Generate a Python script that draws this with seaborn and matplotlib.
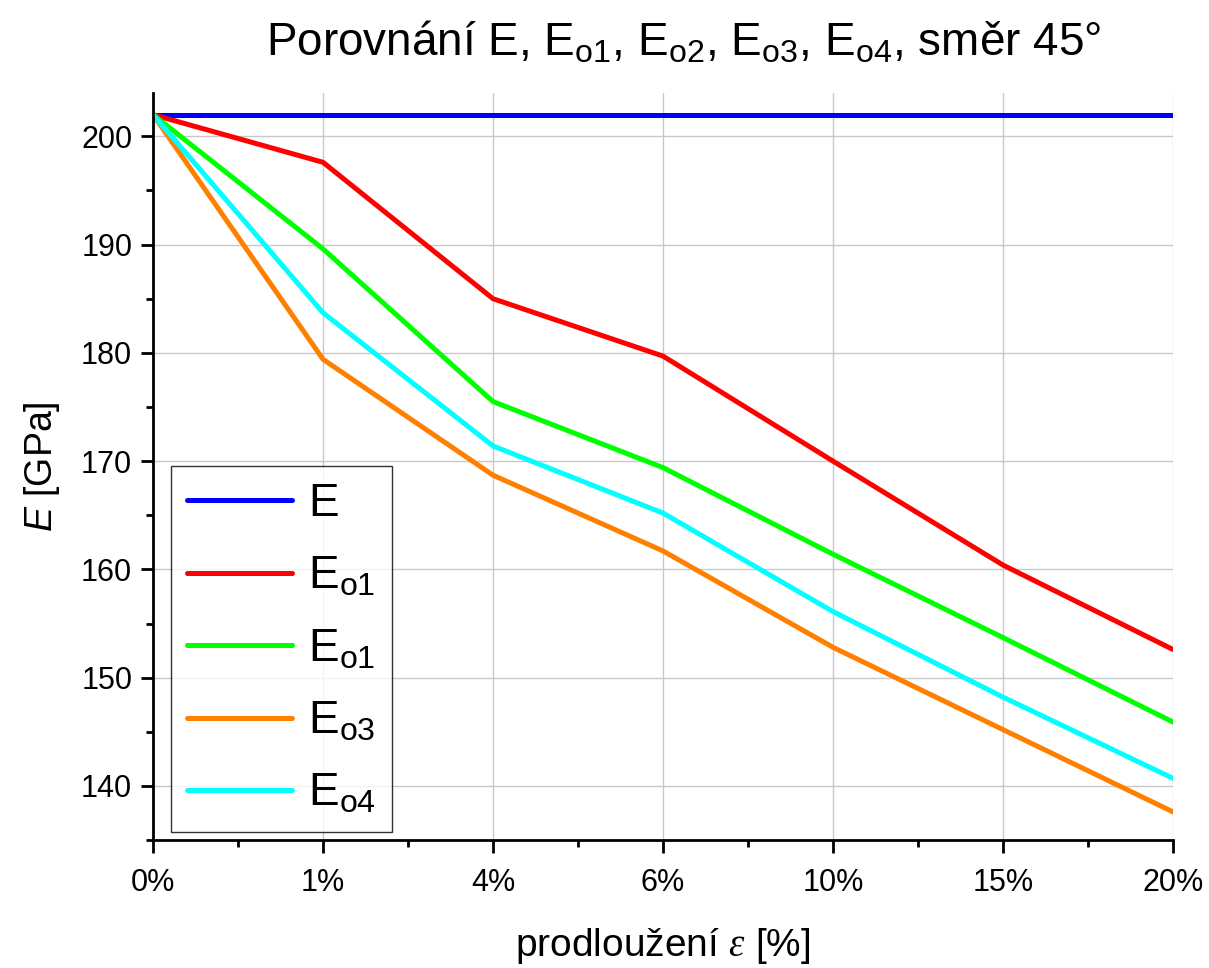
import numpy as np
import pandas as pd
import matplotlib
matplotlib.use("Agg")
import matplotlib.pyplot as plt
import seaborn as sns
from matplotlib.ticker import MultipleLocator

# ---- data ----
x_labels = ["0%", "1%", "4%", "6%", "10%", "15%", "20%"]
E_vals   = [202.0, 202.0, 202.0, 202.0, 202.0, 202.0, 202.0]
Eo1_vals = [202.0, 197.6, 185.0, 179.7, 170.0, 160.4, 152.6]
Eo2_vals = [202.0, 189.6, 175.5, 169.4, 161.4, 153.7, 145.9]
Eo3_vals = [202.0, 179.4, 168.7, 161.7, 152.8, 145.2, 137.6]
Eo4_vals = [202.0, 183.7, 171.4, 165.2, 156.1, 148.2, 140.7]
series_names = ["E", "Eo1", "Eo2", "Eo3", "Eo4"]
legend_labels = [r"$\mathregular{E}$", r"$\mathregular{E_{o1}}$", r"$\mathregular{E_{o1}}$",
                 r"$\mathregular{E_{o3}}$", r"$\mathregular{E_{o4}}$"]
colors = ["#0000FF", "#FF0000", "#00FF00", "#FF8000", "#00FFFF"]

rows = []
for name, vals in zip(series_names, [E_vals, Eo1_vals, Eo2_vals, Eo3_vals, Eo4_vals]):
    for i, v in enumerate(vals):
        rows.append({"x": i, "E": v, "series": name})
df = pd.DataFrame(rows)

sns.set_theme(style="white")
plt.rcParams["font.family"] = ["Liberation Sans", "DejaVu Sans"]
plt.rcParams["mathtext.fontset"] = "custom"
plt.rcParams["mathtext.rm"] = "Liberation Sans"
plt.rcParams["mathtext.sf"] = "Liberation Sans:italic"
plt.rcParams["mathtext.it"] = "Liberation Serif:italic"
for k in ["text.color", "axes.labelcolor", "xtick.color", "ytick.color"]:
    plt.rcParams[k] = "black"

fig = plt.figure(figsize=(12.09, 9.68), dpi=100)
ax = fig.add_axes([0.1266, 0.1322, 0.8436, 0.7717])

sns.lineplot(data=df, x="x", y="E", hue="series", hue_order=series_names,
             palette=dict(zip(series_names, colors)), linewidth=3.6, ax=ax,
             legend=False, sort=False)

ax.set_xlim(0, 6)
ax.set_ylim(135, 204)
ax.set_xticks(range(len(x_labels)))
ax.set_xticklabels(x_labels)
ax.xaxis.set_minor_locator(MultipleLocator(0.5))
ax.yaxis.set_major_locator(MultipleLocator(10))
ax.yaxis.set_minor_locator(MultipleLocator(5))
ax.grid(True, which="major", color="#c8c8c8", linewidth=1.0)
ax.set_axisbelow(True)

for s in ["top", "right"]:
    ax.spines[s].set_visible(False)
for s in ["left", "bottom"]:
    ax.spines[s].set_color("black")
    ax.spines[s].set_linewidth(2.0)

ax.tick_params(which="major", direction="out", length=9, width=2, color="black",
               labelsize=22, pad=6, bottom=True, left=True)
ax.tick_params(axis="x", which="major", pad=11)
ax.tick_params(which="minor", direction="out", length=5, width=2, color="black",
               bottom=True, left=True)

ax.set_xlabel(r"prodloužení $\varepsilon$ [%]", fontsize=28, labelpad=20)
ax.set_ylabel(r"$\mathsf{E}$ [GPa]", fontsize=27, labelpad=14)
ax.set_title(r"Porovnání E, $\mathregular{E_{o1}}$, $\mathregular{E_{o2}}$, "
             r"$\mathregular{E_{o3}}$, $\mathregular{E_{o4}}$, směr 45°",
             fontsize=33, pad=27, x=0.52)

handles = [plt.Line2D([], [], color=c, linewidth=3.6) for c in colors]
leg = ax.legend(handles, legend_labels, loc="lower left", bbox_to_anchor=(0.0176, 0.0107),
                fontsize=33, frameon=True, fancybox=False, edgecolor="black",
                handlelength=2.3, handletextpad=0.33, labelspacing=0.62,
                borderpad=0.35, borderaxespad=0)
leg.get_frame().set_linewidth(1.0)

fig.savefig("out.png", dpi=100)
